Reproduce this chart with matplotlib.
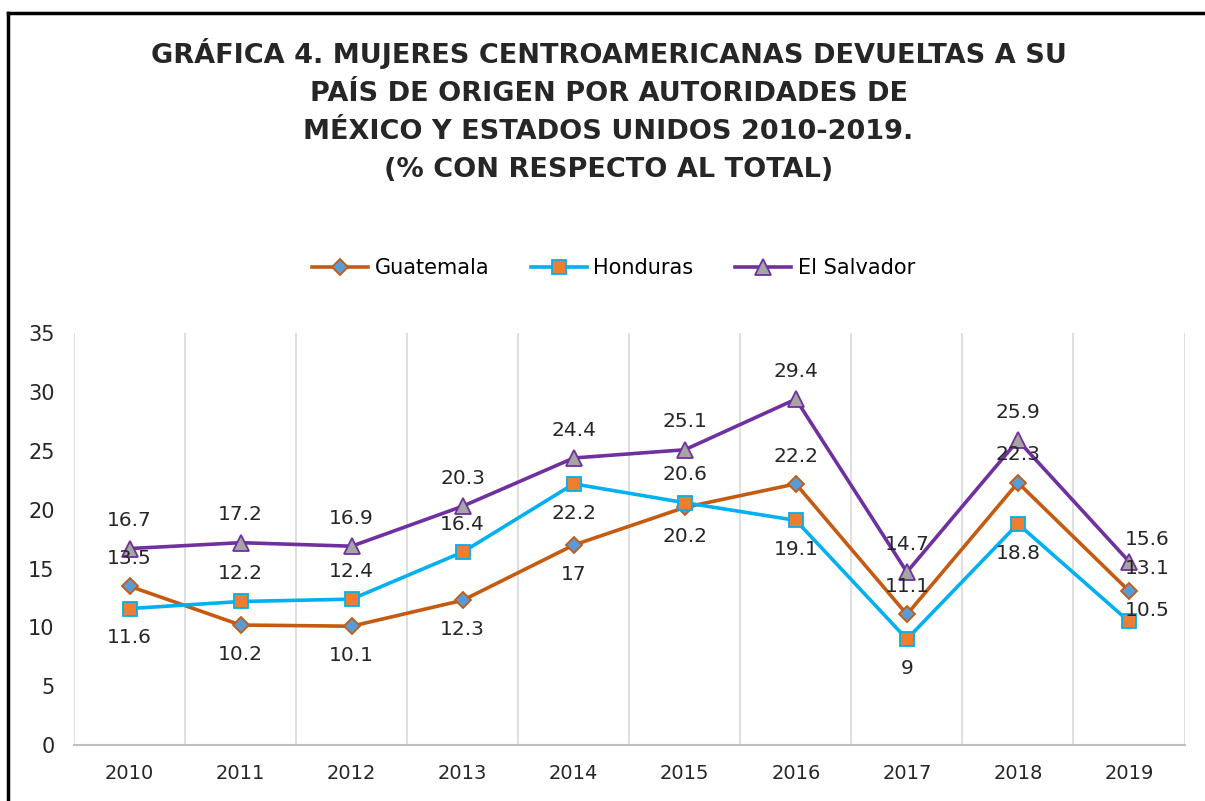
import matplotlib.pyplot as plt
from matplotlib.lines import Line2D

years = ['2010', '2011', '2012', '2013', '2014', '2015', '2016', '2017', '2018', '2019']
guatemala = [13.5, 10.2, 10.1, 12.3, 17, 20.2, 22.2, 11.1, 22.3, 13.1]
honduras = [11.6, 12.2, 12.4, 16.4, 22.2, 20.6, 19.1, 9, 18.8, 10.5]
el_salvador = [16.7, 17.2, 16.9, 20.3, 24.4, 25.1, 29.4, 14.7, 25.9, 15.6]

# where each data label sits: a=above, b=below, ar=above right, r=right
pos_guatemala = ['a', 'b', 'b', 'b', 'b', 'b', 'a', 'a', 'a', 'ar']
pos_honduras = ['b', 'a', 'a', 'a', 'b', 'a', 'b', 'b', 'b', 'r']
pos_salvador = ['a', 'a', 'a', 'a', 'a', 'a', 'a', 'a', 'a', 'ar']

offsets = {'a': (0, 20), 'b': (0, -21), 'ar': (13, 16), 'r': (13, 8)}

plt.rcParams['font.family'] = 'DejaVu Sans'

fig = plt.figure(figsize=(12.05, 8.01), dpi=100)
ax = fig.add_axes([0.0614, 0.0699, 0.9216, 0.514])

x = list(range(len(years)))
series = [
    ('Guatemala', guatemala, pos_guatemala, '#C55A11', 'D', '#5B9BD5', 8),
    ('Honduras', honduras, pos_honduras, '#00B0F0', 's', '#ED7D31', 10),
    ('El Salvador', el_salvador, pos_salvador, '#7030A0', '^', '#A5A5A5', 12),
]

for name, vals, pos, col, mk, fill, ms in series:
    ax.plot(x, vals, color=col, lw=2.6, marker=mk, markersize=ms,
            markerfacecolor=fill, markeredgecolor=col, markeredgewidth=1.3,
            label=name, zorder=3)
    for i, v in enumerate(vals):
        dx, dy = offsets[pos[i]]
        ax.annotate(f'{v:g}', (x[i], v), xytext=(dx, dy), textcoords='offset points',
                    ha='center', va='center', fontsize=14.5, color='#262626', zorder=4)

ax.set_xlim(-0.5, len(years) - 0.5)
ax.set_ylim(0, 35)
ax.set_yticks(range(0, 36, 5))
ax.set_xticks(x)
ax.set_xticklabels(years, fontsize=14)
ax.tick_params(axis='y', labelsize=15, length=0, pad=14, colors='#262626')
ax.tick_params(axis='x', length=0, pad=14, colors='#262626')

for b in range(len(years) + 1):
    ax.axvline(b - 0.5, color='#D9D9D9', lw=1.2, zorder=1)

for s in ['top', 'right', 'left']:
    ax.spines[s].set_visible(False)
ax.spines['bottom'].set_color('#BFBFBF')
ax.spines['bottom'].set_linewidth(1.5)

fig.legend(loc='center', bbox_to_anchor=(0.509, 1 - 268 / 801), ncol=3, frameon=False,
           fontsize=15, handlelength=2.7, columnspacing=2.0, handletextpad=0.3)

fig.text(0.505, 1 - 38 / 801,
         'GRÁFICA 4. MUJERES CENTROAMERICANAS DEVUELTAS A SU\n'
         'PAÍS DE ORIGEN POR AUTORIDADES DE\n'
         'MÉXICO Y ESTADOS UNIDOS 2010-2019.\n'
         '(% CON RESPECTO AL TOTAL)',
         ha='center', va='top', fontsize=19.5, fontweight='bold', color='#262626',
         linespacing=1.6)

# frame of the original picture (cut off at right and bottom)
fig.add_artist(Line2D([8 / 1205, 1.0], [1 - 13 / 801, 1 - 13 / 801], color='black', lw=2.5))
fig.add_artist(Line2D([8 / 1205, 8 / 1205], [0, 1 - 13 / 801], color='black', lw=2.5))

plt.savefig('out.png')
